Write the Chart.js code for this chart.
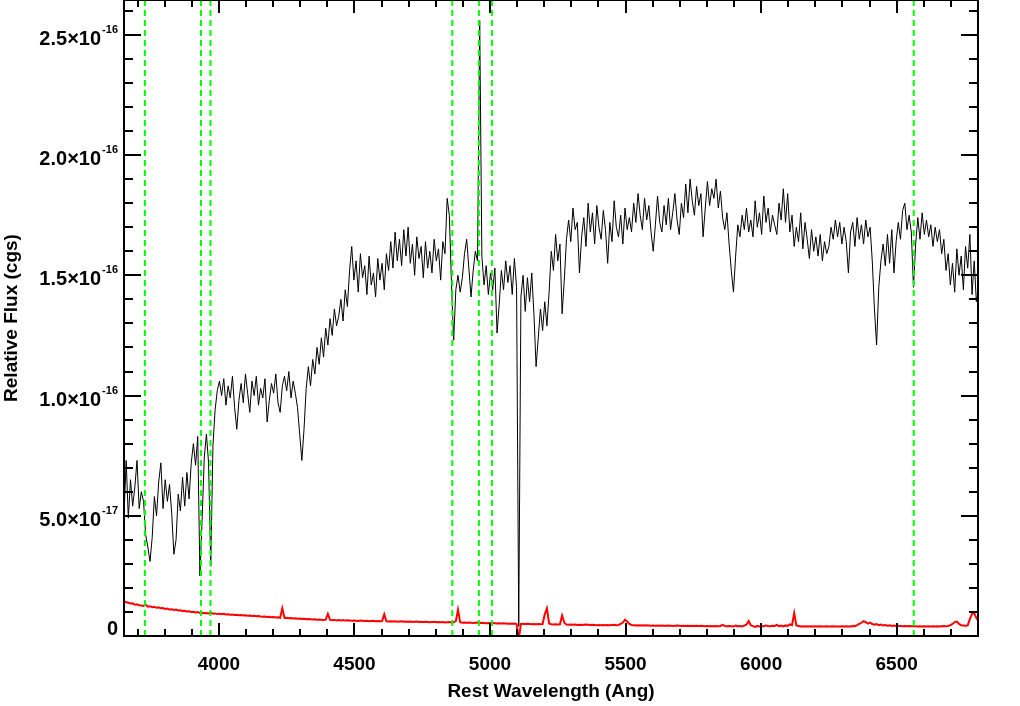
<!DOCTYPE html>
<html><head><meta charset="utf-8">
<script src="https://cdn.jsdelivr.net/npm/chart.js@4.4.1/dist/chart.umd.min.js"></script>
<style>html,body{margin:0;padding:0;background:#fff;}canvas{display:block;}</style>
</head><body>
<canvas id="c" width="1020" height="706"></canvas>
<script>
// Rest wavelength grid (Angstrom)
const wavelength = [
3650,3658,3666,3674,3682,3690,3698,3706,3714,3722,
3730,3738,3746,3754,3762,3770,3778,3786,3794,3802,
3810,3818,3826,3834,3842,3850,3858,3866,3874,3882,
3890,3898,3906,3914,3922,3930,3938,3946,3954,3962,
3970,3978,3986,3994,4002,4010,4018,4026,4034,4042,
4050,4058,4066,4074,4082,4090,4098,4106,4114,4122,
4130,4138,4146,4154,4162,4170,4178,4186,4194,4202,
4210,4218,4226,4234,4242,4250,4258,4266,4274,4282,
4290,4298,4306,4314,4322,4330,4338,4346,4354,4362,
4370,4378,4386,4394,4402,4410,4418,4426,4434,4442,
4450,4458,4466,4474,4482,4490,4498,4506,4514,4522,
4530,4538,4546,4554,4562,4570,4578,4586,4594,4602,
4610,4618,4626,4634,4642,4650,4658,4666,4674,4682,
4690,4698,4706,4714,4722,4730,4738,4746,4754,4762,
4770,4778,4786,4794,4802,4810,4818,4826,4834,4842,
4850,4858,4866,4874,4882,4890,4898,4906,4914,4922,
4930,4938,4946,4954,4962,4970,4978,4986,4994,5002,
5010,5018,5026,5034,5042,5050,5058,5066,5074,5082,
5090,5098,5106,5114,5122,5130,5138,5146,5154,5162,
5170,5178,5186,5194,5202,5210,5218,5226,5234,5242,
5250,5258,5266,5274,5282,5290,5298,5306,5314,5322,
5330,5338,5346,5354,5362,5370,5378,5386,5394,5402,
5410,5418,5426,5434,5442,5450,5458,5466,5474,5482,
5490,5498,5506,5514,5522,5530,5538,5546,5554,5562,
5570,5578,5586,5594,5602,5610,5618,5626,5634,5642,
5650,5658,5666,5674,5682,5690,5698,5706,5714,5722,
5730,5738,5746,5754,5762,5770,5778,5786,5794,5802,
5810,5818,5826,5834,5842,5850,5858,5866,5874,5882,
5890,5898,5906,5914,5922,5930,5938,5946,5954,5962,
5970,5978,5986,5994,6002,6010,6018,6026,6034,6042,
6050,6058,6066,6074,6082,6090,6098,6106,6114,6122,
6130,6138,6146,6154,6162,6170,6178,6186,6194,6202,
6210,6218,6226,6234,6242,6250,6258,6266,6274,6282,
6290,6298,6306,6314,6322,6330,6338,6346,6354,6362,
6370,6378,6386,6394,6402,6410,6418,6426,6434,6442,
6450,6458,6466,6474,6482,6490,6498,6506,6514,6522,
6530,6538,6546,6554,6562,6570,6578,6586,6594,6602,
6610,6618,6626,6634,6642,6650,6658,6666,6674,6682,
6690,6698,6706,6714,6722,6730,6738,6746,6754,6762,
6770,6778,6786,6794,6802];

// Relative flux, in units of 1e-17 cgs (black spectrum)
const fluxE17 = [
5.0,7.3,4.9,6.5,5.4,6.2,7.3,5.3,6.0,5.6,
4.2,3.7,3.1,4.1,5.8,5.0,6.4,7.2,5.3,6.5,
5.6,6.3,5.1,3.4,4.0,5.9,5.2,6.6,5.4,6.8,
5.7,7.2,8.0,7.1,8.3,2.5,4.8,7.4,8.4,7.2,
2.9,7.9,9.4,10.2,10.6,10.0,10.7,9.6,10.4,9.9,
10.8,9.5,8.6,9.8,10.5,9.7,10.9,10.1,9.3,10.6,
10.0,10.8,9.6,10.3,9.9,10.7,8.9,9.8,10.5,10.1,
10.9,9.7,9.3,10.4,10.8,10.2,11.0,9.9,10.6,10.1,
9.5,8.4,7.3,8.6,10.3,11.2,10.4,11.5,10.9,12.0,
11.3,12.4,11.6,12.8,12.1,13.2,12.5,13.6,12.9,13.3,
14.0,13.1,14.4,13.7,15.2,16.2,14.8,15.6,14.3,15.9,
14.9,15.4,14.2,15.8,14.6,15.1,14.1,15.7,14.8,15.5,
14.4,15.9,15.2,16.4,15.3,16.8,15.6,16.5,15.4,16.9,
15.8,17.0,15.5,16.3,15.0,16.6,15.7,16.2,14.9,16.4,
15.3,16.0,15.1,16.5,15.6,16.1,14.8,16.4,15.9,18.2,
17.5,14.6,12.3,14.4,15.0,14.3,14.9,15.9,16.5,15.3,
14.1,15.2,16.0,15.6,25.6,15.8,14.6,15.4,14.2,15.1,
14.4,15.3,12.6,13.8,15.2,14.4,15.6,14.7,15.4,14.2,
15.7,14.5,0.4,14.1,15.0,13.5,14.9,13.9,15.1,13.4,
11.2,12.4,13.6,12.7,13.9,12.9,14.3,16.0,15.2,16.7,
15.6,16.3,13.4,14.8,16.5,17.3,16.4,17.8,16.9,17.2,
15.1,16.6,17.4,16.2,18.0,16.8,17.6,16.3,17.9,17.0,
16.5,17.7,16.9,15.5,17.2,16.4,18.1,17.0,16.6,17.5,
16.3,17.8,16.9,17.4,16.8,18.0,17.2,18.4,17.5,16.9,
18.2,17.3,17.9,16.8,16.0,17.1,18.3,17.2,16.8,17.9,
17.1,18.2,16.9,17.6,18.4,17.3,16.7,18.0,17.4,18.8,
17.6,19.0,18.1,17.5,18.7,17.9,18.4,16.6,17.8,18.9,
17.9,18.6,18.2,19.0,17.8,18.5,17.4,16.9,17.6,16.3,
15.2,14.3,15.8,17.1,16.6,17.5,16.9,17.8,16.8,17.3,
16.6,18.1,17.0,17.6,16.7,18.3,17.2,17.8,16.8,17.5,
17.1,16.7,18.0,17.3,18.6,17.2,18.4,16.8,17.5,16.2,
17.0,16.4,17.6,16.1,17.2,16.5,15.7,16.9,16.0,16.6,
15.8,16.7,15.6,16.4,15.9,16.2,17.0,16.5,17.3,16.6,
17.2,16.3,17.0,16.4,15.1,16.8,17.2,16.2,17.4,16.5,
17.1,16.3,17.3,16.6,17.0,15.6,13.6,12.1,14.5,15.6,
16.3,15.4,16.7,15.5,16.9,15.1,16.4,17.2,16.5,17.7,
18.0,16.9,17.5,16.8,14.5,16.3,17.4,16.5,17.6,16.7,
17.3,16.6,17.1,16.2,17.0,16.4,16.9,15.9,16.5,15.2,
15.9,14.6,15.5,14.3,16.1,15.0,15.8,14.4,16.2,15.3,
16.7,14.2,15.6,13.9,14.5];

// Error spectrum, in units of 1e-17 cgs (red)
const errorE17 = [
1.45,1.40,1.38,1.35,1.36,1.30,1.32,1.28,1.27,1.25,
1.30,1.22,1.24,1.20,1.21,1.18,1.19,1.15,1.16,1.12,
1.14,1.10,1.11,1.08,1.10,1.06,1.07,1.04,1.05,1.02,
1.03,1.00,1.01,0.98,1.00,0.96,0.97,0.95,0.96,0.94,
0.97,0.93,0.94,0.92,0.93,0.91,0.92,0.89,0.90,0.88,
0.89,0.87,0.88,0.86,0.87,0.85,0.86,0.84,0.85,0.83,
0.84,0.82,0.83,0.81,0.80,0.81,0.79,0.80,0.78,0.79,
0.77,0.78,0.76,1.15,0.75,0.76,0.74,0.75,0.73,0.74,
0.72,0.73,0.71,0.72,0.70,0.71,0.70,0.69,0.70,0.68,
0.69,0.68,0.67,0.68,0.92,0.67,0.66,0.67,0.65,0.66,
0.65,0.66,0.64,0.65,0.64,0.63,0.64,0.63,0.62,0.64,
0.63,0.62,0.63,0.61,0.62,0.63,0.61,0.62,0.61,0.62,
0.90,0.61,0.60,0.61,0.60,0.61,0.59,0.60,0.61,0.59,
0.60,0.59,0.60,0.58,0.59,0.60,0.58,0.59,0.58,0.59,
0.58,0.57,0.58,0.59,0.57,0.58,0.57,0.58,0.56,0.57,
0.58,0.56,0.57,0.62,1.10,0.57,0.55,0.56,0.55,0.56,
0.55,0.54,0.55,0.56,0.54,0.55,0.54,0.53,0.54,0.53,
0.54,0.53,0.52,0.53,0.52,0.53,0.52,0.51,0.52,0.51,
0.52,0.50,-0.15,0.50,0.51,0.50,0.51,0.50,0.49,0.50,
0.49,0.50,0.49,0.50,0.90,1.15,0.52,0.49,0.48,0.49,
0.48,0.49,0.85,0.55,0.48,0.47,0.48,0.47,0.48,0.46,
0.47,0.46,0.47,0.48,0.47,0.46,0.47,0.46,0.45,0.46,
0.45,0.46,0.45,0.46,0.45,0.46,0.47,0.45,0.46,0.50,
0.56,0.68,0.60,0.50,0.46,0.45,0.44,0.45,0.44,0.45,
0.44,0.45,0.44,0.43,0.44,0.43,0.44,0.43,0.44,0.43,
0.43,0.44,0.43,0.42,0.43,0.44,0.43,0.42,0.43,0.42,
0.43,0.42,0.43,0.42,0.43,0.42,0.43,0.42,0.41,0.42,
0.41,0.42,0.41,0.42,0.41,0.42,0.46,0.42,0.41,0.42,
0.41,0.40,0.43,0.41,0.42,0.40,0.43,0.48,0.62,0.45,
0.41,0.38,0.42,0.40,0.42,0.41,0.44,0.42,0.41,0.43,
0.42,0.46,0.41,0.43,0.40,0.44,0.42,0.48,0.45,0.95,
0.44,0.42,0.40,0.41,0.40,0.41,0.40,0.41,0.40,0.41,
0.40,0.41,0.40,0.40,0.41,0.40,0.40,0.41,0.40,0.40,
0.40,0.41,0.40,0.41,0.40,0.40,0.42,0.41,0.45,0.50,
0.55,0.62,0.58,0.52,0.56,0.50,0.47,0.50,0.45,0.48,
0.44,0.46,0.43,0.45,0.42,0.44,0.42,0.43,0.42,0.41,
0.42,0.41,0.42,0.41,0.42,0.41,0.40,0.41,0.40,0.41,
0.40,0.41,0.40,0.41,0.40,0.41,0.40,0.41,0.42,0.41,
0.42,0.45,0.50,0.58,0.60,0.50,0.45,0.44,0.43,0.44,
0.70,0.92,0.95,0.75,0.62];

// Marked emission/absorption line wavelengths (green dashed)
const lineWaves = [3727, 3934, 3969, 4861, 4959, 5007, 6563];

// Axes
const xRange = [3650, 6800];
const yRange = [0, 26.45];
const xMajorTicks = [4000, 4500, 5000, 5500, 6000, 6500];
const xTickLabels = ['4000', '4500', '5000', '5500', '6000', '6500'];
const xMinorTicks = [3700,3800,3900,4100,4200,4300,4400,4600,4700,4800,4900,5100,5200,5300,5400,5600,5700,5800,5900,6100,6200,6300,6400,6600,6700];
const yMajorTicks = [0, 5, 10, 15, 20, 25];
const yTickMantissa = ['0', '5.0\u00d710', '1.0\u00d710', '1.5\u00d710', '2.0\u00d710', '2.5\u00d710'];
const yTickExponent = ['', '-17', '-16', '-16', '-16', '-16'];
const yMinorTicks = [1,2,3,4,6,7,8,9,11,12,13,14,16,17,18,19,21,22,23,24,26];
const xTitle = 'Rest Wavelength (Ang)';
const yTitle = 'Relative Flux (cgs)';

const FONT = 'Liberation Sans';
const n = Math.min(wavelength.length, fluxE17.length, errorE17.length);
const specPts = [], errPts = [];
for (let i = 0; i < n; i++) {
  specPts.push({x: wavelength[i], y: fluxE17[i]});
  errPts.push({x: wavelength[i], y: errorE17[i]});
}
const lineSets = lineWaves.map(w => ({
  data: [{x: w, y: yRange[0]}, {x: w, y: yRange[1]}],
  borderColor: '#00ff00', borderWidth: 2, borderDash: [6, 4],
  pointRadius: 0, order: 0
}));

const framePlugin = {
  id: 'idlFrame',
  afterDatasetsDraw(chart) {
    const {ctx, chartArea: a, scales: {x, y}} = chart;
    ctx.save();
    ctx.strokeStyle = '#000';
    ctx.lineWidth = 2;
    ctx.beginPath();
    const vt = (v, len) => {
      const p = Math.round(x.getPixelForValue(v));
      ctx.moveTo(p, a.bottom); ctx.lineTo(p, a.bottom - len);
      ctx.moveTo(p, a.top); ctx.lineTo(p, a.top + len);
    };
    const ht = (v, len) => {
      const p = Math.round(y.getPixelForValue(v));
      ctx.moveTo(a.left, p); ctx.lineTo(a.left + len, p);
      ctx.moveTo(a.right, p); ctx.lineTo(a.right - len, p);
    };
    xMajorTicks.forEach(v => vt(v, 13));
    xMinorTicks.forEach(v => vt(v, 7));
    yMajorTicks.forEach(v => ht(v, 17));
    yMinorTicks.forEach(v => ht(v, 9));
    ctx.stroke();
    ctx.strokeRect(a.left, a.top, a.right - a.left, a.bottom - a.top);
    // y tick labels with superscript exponent
    ctx.fillStyle = '#000';
    ctx.textBaseline = 'alphabetic';
    const rightEdge = a.left - 6;
    yMajorTicks.forEach((v, i) => {
      const p = y.getPixelForValue(v);
      const base = (v === yRange[0]) ? p - 1 : p + 10;
      ctx.font = 'bold 11px "' + FONT + '"';
      const ew = yTickExponent[i] ? ctx.measureText(yTickExponent[i]).width : 0;
      if (ew) { ctx.textAlign = 'left'; ctx.fillText(yTickExponent[i], rightEdge - ew, base - 12); }
      ctx.font = 'bold 20px "' + FONT + '"';
      ctx.textAlign = 'right';
      ctx.fillText(yTickMantissa[i], rightEdge - ew - (ew ? 1 : 0), base);
    });
    ctx.restore();
  }
};

new Chart(document.getElementById('c'), {
  type: 'line',
  data: {
    datasets: [
      {data: specPts, borderColor: '#000000', borderWidth: 1, pointRadius: 0, order: 2},
      {data: errPts, borderColor: '#ff0000', borderWidth: 2, pointRadius: 0, order: 1},
      ...lineSets
    ]
  },
  options: {
    responsive: false,
    animation: false,
    devicePixelRatio: 1,
    layout: {padding: {left: 0, right: 42, top: 0, bottom: 0}},
    plugins: {legend: {display: false}, tooltip: {enabled: false}},
    elements: {line: {tension: 0}},
    scales: {
      x: {
        type: 'linear', position: 'bottom', min: xRange[0], max: xRange[1],
        grid: {display: false, drawTicks: false}, border: {display: false},
        afterBuildTicks: s => { s.ticks = xMajorTicks.map(v => ({value: v})); },
        afterFit: s => { s.height = 70; },
        ticks: {
          autoSkip: false, maxRotation: 0, padding: 17, color: '#000',
          font: {family: FONT, size: 19, weight: 'bold'},
          callback: v => { const k = xMajorTicks.indexOf(v); return k >= 0 ? xTickLabels[k] : ''; }
        },
        title: {display: true, text: xTitle, color: '#000',
          font: {family: FONT, size: 19, weight: 'bold'}, padding: {top: 0, bottom: 3}}
      },
      y: {
        type: 'linear', position: 'left', min: yRange[0], max: yRange[1],
        grid: {display: false, drawTicks: false}, border: {display: false},
        ticks: {display: false},
        afterFit: s => { s.width = 124; },
        title: {display: true, text: yTitle, color: '#000',
          font: {family: FONT, size: 19, weight: 'bold'}, padding: {top: 0, bottom: 0}}
      }
    }
  },
  plugins: [framePlugin]
});
</script>
</body></html>
